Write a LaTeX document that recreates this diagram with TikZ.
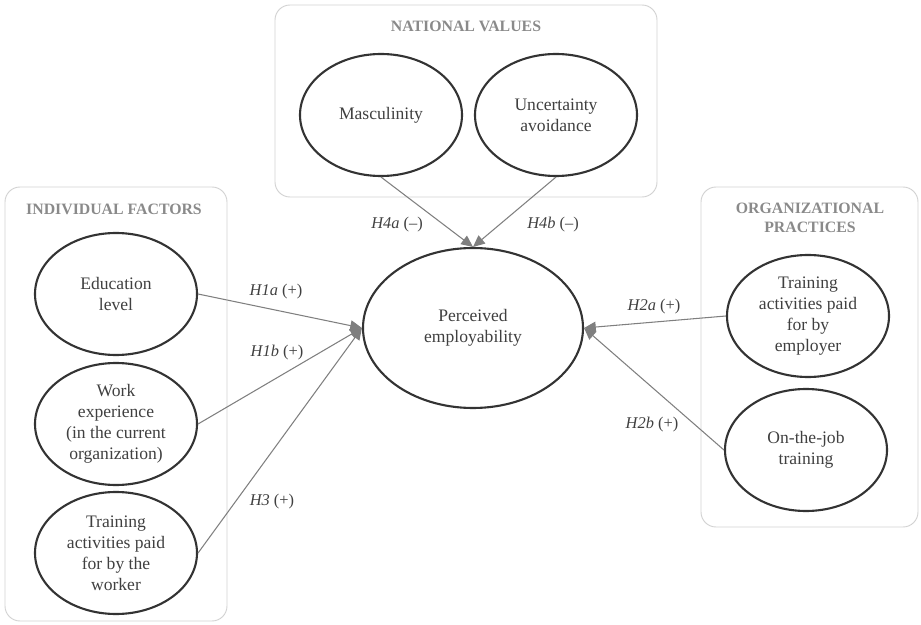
\documentclass[tikz,border=0pt]{standalone}
\usepackage{fontspec}
\setmainfont{Liberation Serif}
\usetikzlibrary{shapes.geometric,arrows.meta}
\definecolor{boxgray}{HTML}{D2D2D2}
\definecolor{titlegray}{HTML}{8A8A8A}
\definecolor{rimgray}{HTML}{333333}
\definecolor{textgray}{HTML}{404040}
\definecolor{arrowgray}{HTML}{7F7F7F}
\tikzset{
  factor/.style={ellipse,draw=rimgray,line width=1.8pt,minimum width=4.86cm,
    minimum height=3.66cm,inner sep=0pt,align=center,text=textgray,
    font=\fontsize{15}{18}\selectfont},
  groupbox/.style={draw=boxgray,line width=0.8pt,rounded corners=0.45cm},
  grouptitle/.style={font=\fontsize{13.5}{16}\selectfont\bfseries,text=titlegray,align=center},
  hyp/.style={font=\fontsize{14}{16}\selectfont,text=textgray},
  link/.style={draw=arrowgray,line width=0.9pt,-{Triangle[length=10pt,width=9pt]}}
}
\begin{document}
\begin{tikzpicture}[x=0.03cm,y=-0.03cm]
\useasboundingbox (0,0) rectangle (921,625);
% group boxes
\draw[groupbox] (275,5) rectangle (657,197);
\draw[groupbox] (5,187) rectangle (227,621);
\draw[groupbox] (701,187) rectangle (918,527);
\node[grouptitle] (tnv) at (466,26) {NATIONAL VALUES};
\node[grouptitle] (tif) at (114,209) {INDIVIDUAL FACTORS};
\node[grouptitle] (top) at (810,218) {ORGANIZATIONAL\\PRACTICES};
% constructs
\node[factor] (masc) at (381,115) {Masculinity};
\node[factor] (unc) at (556,115) {Uncertainty\\avoidance};
\node[factor] (edu) at (116,294) {Education\\level};
\node[factor] (work) at (116,424) {Work\\experience\\(in the current\\organization)};
\node[factor] (trw) at (116,553) {Training\\activities paid\\for by the\\worker};
\node[factor] (tre) at (808,316) {Training\\activities paid\\for by\\employer};
\node[factor] (job) at (806,450) {On-the-job\\training};
\node[factor,minimum width=6.6cm,minimum height=4.8cm] (pe) at (473,328) {Perceived\\employability};
% hypotheses
\draw[link] (masc.south) -- (pe.north);
\draw[link] (unc.south) -- (pe.north);
\draw[link] (edu.east) -- (pe.west);
\draw[link] (work.east) -- (pe.west);
\draw[link] (trw.east) -- (pe.west);
\draw[link] (tre.west) -- (pe.east);
\draw[link] (job.west) -- (pe.east);
\node[hyp] (h4a) at (397,225) {\textit{H4a} (--)};
\node[hyp] (h4b) at (553,225) {\textit{H4b} (--)};
\node[hyp] (h1a) at (276,292) {\textit{H1a} (+)};
\node[hyp] (h1b) at (277,353) {\textit{H1b} (+)};
\node[hyp] (h3) at (272,502) {\textit{H3} (+)};
\node[hyp] (h2a) at (654,307) {\textit{H2a} (+)};
\node[hyp] (h2b) at (652,425) {\textit{H2b} (+)};
\end{tikzpicture}
\end{document}
